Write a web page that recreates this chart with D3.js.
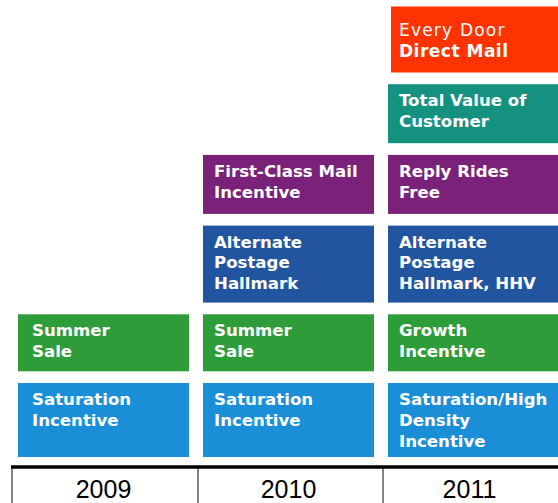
<!DOCTYPE html>
<html>
<head>
<meta charset="utf-8">
<script src="https://cdn.jsdelivr.net/npm/d3@7"></script>
<style>
  html, body { margin: 0; padding: 0; background: #fff; overflow: hidden; }
  svg { display: block; }
</style>
</head>
<body>
<svg id="chart" width="558" height="503"></svg>
<script>
// data
const years = ["2009", "2010", "2011"];
const tiers = ["Saturation", "Seasonal", "Postage", "First-Class", "Customer", "EDDM"];
const tierColors = ["#1a8fd8", "#2f9c3a", "#21559f", "#7a2179", "#15917f", "#ff3300"];

const labels2009 = [
  ["Saturation", "Incentive"],
  ["Summer", "Sale"]
];
const labels2010 = [
  ["Saturation", "Incentive"],
  ["Summer", "Sale"],
  ["Alternate", "Postage", "Hallmark"],
  ["First-Class Mail", "Incentive"]
];
const labels2011 = [
  ["Saturation/High", "Density", "Incentive"],
  ["Growth", "Incentive"],
  ["Alternate", "Postage", "Hallmark, HHV"],
  ["Reply Rides", "Free"],
  ["Total Value of", "Customer"],
  ["Every Door", "Direct Mail"]
];

const yearLabels = [labels2009, labels2010, labels2011];

// layout
const W = 558, H = 503;
const axisY = 467;
const rowHeights = [74, 57, 77, 59, 59, 66];
const rowGap = 11.7;
const rowBottom = 457;

const svg = d3.select("#chart");

const x = d3.scaleBand().domain(years).range([11, 566]);

// stacked tier positions, bottom up
const tierTop = [];
let cur = rowBottom;
rowHeights.forEach((h, i) => {
  tierTop.push(cur - h);
  cur = cur - h - rowGap;
});
const y = d3.scaleOrdinal().domain(tiers).range(tierTop);
const color = d3.scaleOrdinal().domain(tiers).range(tierColors);

const boxes = [];
years.forEach((yr, yi) => {
  yearLabels[yi].forEach((lines, ti) => {
    boxes.push({ year: yr, tier: tiers[ti], ti, lines });
  });
});

const g = svg.append("g").attr("class", "boxes");

const box = g.selectAll("g.box")
  .data(boxes)
  .join("g")
  .attr("class", "box")
  .attr("transform", d => {
    const inset = d.tier === "EDDM" ? 10 : 7;
    return `translate(${x(d.year) + inset},${y(d.tier)})`;
  });

box.append("rect")
  .attr("width", 171)
  .attr("height", d => rowHeights[d.ti])
  .attr("fill", d => color(d.tier));

box.each(function(d) {
  const el = d3.select(this);
  const eddm = d.tier === "EDDM";
  const t = el.append("text")
    .attr("fill", "#fff")
    .style("font-family", "'DejaVu Sans', Verdana, sans-serif");
  d.lines.forEach((line, i) => {
    t.append("tspan")
      .attr("x", eddm ? 8 : (d.year === "2009" ? 14 : 11))
      .attr("y", (eddm ? 29 : 22) + i * (eddm ? 21 : 20.8))
      .style("font-size", eddm ? "17px" : "16.6px")
      .style("font-weight", eddm && i === 0 ? "normal" : "bold")
      .style("letter-spacing", eddm ? (i === 0 ? "1.2px" : "0.5px") : "0px")
      .text(line);
  });
});

// year axis
const axis = svg.append("g").attr("class", "year-axis");

axis.selectAll("line.divider")
  .data(years)
  .join("line")
  .attr("class", "divider")
  .attr("x1", d => x(d) + (d === "2009" ? 1 : 2))
  .attr("x2", d => x(d) + (d === "2009" ? 1 : 2))
  .attr("y1", axisY)
  .attr("y2", H)
  .attr("stroke", "#666")
  .attr("stroke-width", 1.6);

axis.append("line")
  .attr("x1", 11)
  .attr("x2", W)
  .attr("y1", axisY)
  .attr("y2", axisY)
  .attr("stroke", "#000")
  .attr("stroke-width", 3.5);

axis.selectAll("text")
  .data(years)
  .join("text")
  .attr("text-anchor", "middle")
  .attr("x", d => Math.min(x(d) + x.bandwidth() / 2, (x(d) + W) / 2))
  .attr("y", 497.5)
  .attr("fill", "#000")
  .style("font-family", "'Liberation Sans', Arial, sans-serif")
  .style("font-size", "25px")
  .text(d => d);
</script>
</body>
</html>
